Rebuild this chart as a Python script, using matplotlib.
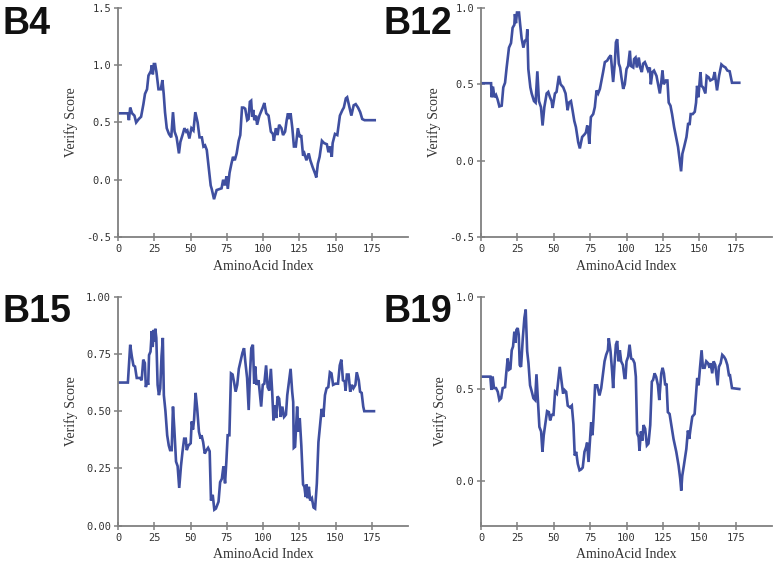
import matplotlib
matplotlib.use("Agg")
import matplotlib.pyplot as plt
from matplotlib.ticker import FormatStrFormatter

plt.rcParams["axes.unicode_minus"] = False

LINE_COLOR = "#3f4fa0"
AXIS_COLOR = "#808080"

x_ticks = [0, 25, 50, 75, 100, 125, 150, 175]

# B4
b4_x = [0, 6.8, 7.5, 8.4, 9.7, 11.3, 12.5, 14.3, 15.9, 17.5, 18.6, 20, 21, 22.7, 23.3, 24, 24.7, 25.6,
        26.5, 27.9, 29.5, 30.6, 31.5, 32.4, 33.6, 35.1, 36.7, 37.9, 39, 40.4, 42, 43, 44.7, 45.8, 47,
        47.8, 49.2, 50.6, 52, 53.3, 54.9, 56.2, 57.8, 58.9, 60, 61.2, 62.8, 63.9, 64.6, 66.2, 68, 71.4,
        72.5, 73.7, 74.8, 75.7, 76.9, 78.2, 79.3, 80.5, 81.8, 83.2, 84.3, 85.5, 86.6, 87.7, 89.1, 90,
        90.9, 91.8, 92.5, 93.2, 94, 95.2, 95.9, 97.5, 99.8, 100.9, 102.2, 103.8, 105.4, 106.8, 107.5,
        108.8, 110, 111.1, 112.7, 113.8, 115.2, 116.3, 117.2, 118.1, 119, 120.2, 121.3, 122.6, 124,
        125.4, 126.3, 127.6, 128.5, 129.9, 131.5, 132.6, 134.2, 136, 136.7, 137.8, 139, 140.6, 142.1,
        144, 145.1, 146.2, 147.4, 148, 149.6, 151.2, 153, 154.8, 155.7, 157.1, 158, 159.1, 160.9,
        162.5, 163.9, 165.5, 167, 168.4, 170, 177]
b4_y = [0.58, 0.58, 0.52, 0.63, 0.58, 0.56, 0.50, 0.53, 0.55, 0.66, 0.75, 0.79, 0.91, 0.95, 1.0, 0.92,
        1.01, 1.01, 0.94, 0.79, 0.79, 0.87, 0.75, 0.59, 0.45, 0.40, 0.37, 0.59, 0.42, 0.37, 0.23, 0.33,
        0.40, 0.45, 0.42, 0.43, 0.36, 0.45, 0.43, 0.59, 0.50, 0.37, 0.37, 0.29, 0.30, 0.26, 0.08, -0.05,
        -0.08, -0.17, -0.09, -0.075, 0.0, -0.05, 0.03, -0.08, 0.06, 0.14, 0.20, 0.17, 0.23, 0.34, 0.39,
        0.63, 0.63, 0.62, 0.52, 0.53, 0.68, 0.69, 0.55, 0.61, 0.52, 0.56, 0.48, 0.56, 0.63, 0.67, 0.58,
        0.56, 0.42, 0.40, 0.34, 0.45, 0.39, 0.48, 0.45, 0.39, 0.42, 0.52, 0.58, 0.53, 0.58, 0.45, 0.29,
        0.29, 0.45, 0.37, 0.39, 0.21, 0.23, 0.17, 0.23, 0.17, 0.11, 0.05, 0.02, 0.14, 0.20, 0.34, 0.32,
        0.31, 0.24, 0.29, 0.20, 0.32, 0.40, 0.39, 0.56, 0.61, 0.63, 0.71, 0.72, 0.66, 0.56, 0.65, 0.66,
        0.63, 0.59, 0.53, 0.52, 0.52]

# B12
b12_x = [0, 6.9, 7.3, 8.2, 9.2, 10.3, 11.4, 12.6, 14.2, 15.3, 16.5, 17.6, 19.2, 20.6, 21.7, 22.9, 23.3,
         24, 24.7, 26.1, 26.8, 27.9, 29.1, 30.2, 31.3, 31.8, 32.5, 33.9, 34.8, 36.4, 37.5, 38.7, 39.8,
         41.2, 42.3, 43.5, 45.1, 46.2, 47.4, 48.5, 49.2, 50.8, 51.9, 53.5, 54.7, 56.5, 58.1, 59.5, 60.4,
         61.8, 62.9, 64.1, 65.2, 66.8, 67.9, 69.5, 71.4, 72.1, 73, 73.7, 74.4, 75.5, 77.1, 78.2, 79.4,
         80.5, 81.7, 82.8, 83.9, 85.1, 86.7, 87.9, 89.2, 90.8, 92, 92.7, 93.6, 94.7, 95.6, 96.5, 97.7,
         98.8, 100, 101.1, 102.3, 103, 104.6, 105.2, 106.2, 107.1, 108.4, 109.4, 110.5, 111.4, 112.6,
         113.7, 114.8, 116, 116.7, 117.8, 118.9, 120.6, 121.7, 122.9, 124, 124.7, 125.6, 127, 128.1, 129,
         130.2, 131.3, 132.7, 134.3, 135.4, 136.8, 137.5, 138.4, 139.6, 141.2, 142.3, 143.4, 144.1,
         145.5, 146.9, 147.8, 148.5, 149.4, 150.8, 151.5, 152.6, 154.2, 155.1, 156.5, 157.6, 159.5,
         160.6, 161.5, 162.2, 163.6, 165.2, 166.3, 168, 169.3, 170.9, 172.5, 177.5]
b12_y = [0.507, 0.507, 0.415, 0.485, 0.415, 0.43, 0.40, 0.355, 0.36, 0.48, 0.51, 0.61, 0.74, 0.77, 0.87,
         0.89, 0.96, 0.90, 0.97, 0.97, 0.90, 0.80, 0.74, 0.785, 0.795, 0.86, 0.60, 0.48, 0.44, 0.39, 0.38,
         0.585, 0.39, 0.35, 0.23, 0.35, 0.44, 0.45, 0.415, 0.39, 0.345, 0.44, 0.45, 0.555, 0.50, 0.48,
         0.44, 0.33, 0.38, 0.39, 0.33, 0.26, 0.22, 0.12, 0.08, 0.155, 0.175, 0.185, 0.23, 0.19, 0.11,
         0.285, 0.305, 0.35, 0.46, 0.44, 0.47, 0.525, 0.58, 0.645, 0.655, 0.675, 0.69, 0.515, 0.645,
         0.775, 0.795, 0.635, 0.61, 0.545, 0.47, 0.50, 0.60, 0.62, 0.72, 0.62, 0.61, 0.665, 0.675, 0.61,
         0.675, 0.61, 0.58, 0.635, 0.645, 0.62, 0.59, 0.61, 0.50, 0.58, 0.59, 0.555, 0.50, 0.44, 0.525,
         0.59, 0.50, 0.525, 0.525, 0.38, 0.36, 0.305, 0.22, 0.145, 0.09, -0.02, -0.07, 0.045, 0.09,
         0.155, 0.24, 0.24, 0.305, 0.305, 0.32, 0.38, 0.49, 0.415, 0.58, 0.49, 0.48, 0.44, 0.555, 0.545,
         0.525, 0.535, 0.58, 0.51, 0.46, 0.555, 0.63, 0.62, 0.61, 0.59, 0.585, 0.51, 0.51]

# B15
b15_x = [0, 6.8, 8.4, 9.5, 10.6, 11.7, 12.9, 15.1, 16.3, 17.4, 18.5, 19.2, 20.1, 20.8, 21.4, 22.4, 23.3,
         23.9, 24.6, 25.3, 25.7, 26.4, 27.3, 28.2, 29.1, 30, 30.9, 31.6, 32.7, 33.9, 35, 35.9, 37, 37.9,
         38.8, 40, 41.1, 42.2, 43.4, 44.5, 45.6, 46.7, 47.4, 48.5, 50.1, 50.8, 51.7, 52.4, 53.5, 54.6,
         55.8, 56.9, 57.6, 58.7, 59.8, 61, 62.1, 63.2, 64.1, 65.3, 66.4, 67.5, 69.3, 70.4, 71.6, 72.7,
         73.8, 74.7, 75.6, 76.8, 77.9, 79, 80.2, 81.1, 82.2, 83.3, 84.7, 85.8, 86.9, 87.8, 89, 90.1, 91,
         91.9, 93, 93.9, 94.6, 95.5, 96.9, 98, 98.7, 99.8, 100.9, 102.1, 103.2, 104.3, 105.4, 106.3,
         107.2, 108.2, 109.1, 110, 111.1, 112.2, 113.3, 114.5, 115.8, 116.7, 117.9, 119, 120.1, 120.8,
         121.2, 122.1, 123.5, 124.4, 125.3, 126.4, 127.6, 128.5, 129.4, 130, 130.7, 131.6, 132.5, 133.7,
         134.8, 135.9, 137.1, 138.2, 139.3, 140.4, 141.6, 142.7, 143.8, 145, 146.1, 147.2, 148.3, 149.9,
         151.7, 152.9, 154, 155.1, 156.3, 156.9, 157.8, 159, 160.1, 161.2, 162.3, 163.7, 164.6, 166,
         166.9, 168, 169.1, 169.8, 176.5]
b15_y = [0.625, 0.625, 0.79, 0.74, 0.70, 0.695, 0.645, 0.645, 0.635, 0.725, 0.71, 0.605, 0.635, 0.615,
         0.745, 0.76, 0.85, 0.78, 0.855, 0.805, 0.86, 0.82, 0.615, 0.57, 0.60, 0.74, 0.82, 0.57, 0.50,
         0.395, 0.35, 0.33, 0.33, 0.52, 0.425, 0.28, 0.26, 0.165, 0.26, 0.325, 0.38, 0.38, 0.33, 0.35,
         0.36, 0.455, 0.42, 0.46, 0.58, 0.51, 0.41, 0.38, 0.395, 0.365, 0.315, 0.33, 0.34, 0.325, 0.11,
         0.135, 0.07, 0.075, 0.105, 0.19, 0.205, 0.26, 0.185, 0.28, 0.395, 0.395, 0.665, 0.66, 0.62,
         0.585, 0.615, 0.685, 0.725, 0.755, 0.775, 0.715, 0.645, 0.505, 0.665, 0.775, 0.79, 0.62, 0.695,
         0.615, 0.635, 0.565, 0.52, 0.615, 0.62, 0.70, 0.605, 0.59, 0.685, 0.585, 0.46, 0.525, 0.47,
         0.565, 0.555, 0.475, 0.52, 0.475, 0.485, 0.57, 0.63, 0.685, 0.585, 0.54, 0.34, 0.345, 0.52, 0.41,
         0.47, 0.35, 0.18, 0.17, 0.125, 0.18, 0.12, 0.17, 0.11, 0.12, 0.08, 0.075, 0.185, 0.365, 0.44,
         0.51, 0.475, 0.57, 0.60, 0.605, 0.67, 0.665, 0.615, 0.62, 0.62, 0.70, 0.725, 0.635, 0.63, 0.59,
         0.66, 0.66, 0.585, 0.615, 0.60, 0.615, 0.67, 0.635, 0.585, 0.58, 0.52, 0.50, 0.50]

# B19
b19_x = [0, 6.4, 7.1, 8, 8.9, 10.3, 11.5, 12.6, 13.8, 14.9, 16.5, 17.2, 18.3, 19.3, 20.2, 21.1, 22, 22.9,
         23.6, 24.3, 25.2, 25.9, 26.6, 27.5, 28.7, 29.8, 30.7, 31.7, 32.6, 33.7, 34.9, 36, 37.2, 38.1,
         39, 40.1, 41.3, 42.2, 43.1, 44.3, 45.4, 46.6, 47.5, 48.6, 49.8, 50.9, 52.1, 53, 54.1, 55, 56.4,
         57.3, 58.5, 59.6, 61.2, 62.4, 63.5, 64.4, 65.4, 66.5, 67.7, 68.8, 69.9, 71.1, 72.2, 72.9, 73.9,
         75, 75.7, 76.6, 77.3, 78.4, 79.8, 81.4, 82.6, 83.7, 84.9, 86, 87.2, 87.8, 89, 90.1, 90.8, 91.7,
         92.7, 93.6, 94.5, 95.4, 96.3, 97.5, 98.6, 99.3, 100, 101.1, 102.1, 103.2, 104.4, 105.5, 106.4,
         107.3, 108.3, 108.9, 109.9, 110.8, 111.7, 112.8, 114, 115.1, 116.3, 117.4, 118.3, 119.3, 120.4,
         121.6, 122.5, 123.9, 124.8, 125.7, 126.6, 127.5, 128.4, 129.6, 130.7, 132.3, 134.2, 135.8,
         136.9, 137.6, 138.3, 139.4, 141.1, 142.2, 143.1, 144, 145.2, 146.8, 147.7, 148.6, 149.5, 150.5,
         151.6, 152.5, 153.7, 154.8, 156, 157.1, 157.8, 158.9, 159.9, 161, 161.9, 162.6, 163.5, 164.7,
         165.8, 167, 168.1, 169.3, 170.4, 171.1, 172.5, 177.5]
b19_y = [0.567, 0.567, 0.495, 0.567, 0.505, 0.505, 0.485, 0.44, 0.45, 0.505, 0.51, 0.575, 0.665, 0.605,
         0.61, 0.71, 0.73, 0.81, 0.75, 0.82, 0.83, 0.795, 0.63, 0.62, 0.775, 0.885, 0.93, 0.705, 0.64,
         0.52, 0.485, 0.45, 0.44, 0.58, 0.45, 0.295, 0.27, 0.16, 0.25, 0.32, 0.38, 0.375, 0.33, 0.36,
         0.36, 0.485, 0.475, 0.54, 0.62, 0.565, 0.475, 0.495, 0.485, 0.41, 0.40, 0.41, 0.31, 0.14, 0.16,
         0.095, 0.06, 0.065, 0.075, 0.16, 0.185, 0.21, 0.105, 0.24, 0.32, 0.25, 0.34, 0.52, 0.52, 0.465,
         0.505, 0.575, 0.65, 0.685, 0.71, 0.775, 0.705, 0.595, 0.505, 0.63, 0.74, 0.76, 0.65, 0.71, 0.65,
         0.63, 0.56, 0.56, 0.65, 0.675, 0.74, 0.665, 0.66, 0.64, 0.567, 0.26, 0.24, 0.165, 0.27, 0.22,
         0.305, 0.285, 0.195, 0.205, 0.305, 0.54, 0.55, 0.585, 0.565, 0.52, 0.44, 0.585, 0.615, 0.585,
         0.52, 0.53, 0.375, 0.365, 0.31, 0.23, 0.16, 0.085, 0.015, -0.05, 0.03, 0.085, 0.175, 0.275,
         0.23, 0.285, 0.35, 0.365, 0.465, 0.56, 0.52, 0.615, 0.71, 0.615, 0.615, 0.65, 0.64, 0.615, 0.64,
         0.585, 0.65, 0.63, 0.567, 0.52, 0.62, 0.64, 0.685, 0.675, 0.66, 0.63, 0.575, 0.575, 0.505, 0.50]


def draw_panel(fig, rect, xs, ys, ylim, yticks, yfmt, tag, tag_pos):
    ax = fig.add_axes(rect)
    ax.plot(xs, ys, color=LINE_COLOR, linewidth=1.9, solid_joinstyle="miter")
    ax.set_xlim(0, 200)
    ax.set_ylim(*ylim)
    ax.set_xticks(x_ticks)
    ax.set_yticks(yticks)
    ax.yaxis.set_major_formatter(FormatStrFormatter(yfmt))

    for side in ("top", "right"):
        ax.spines[side].set_visible(False)
    for side in ("left", "bottom"):
        ax.spines[side].set_color(AXIS_COLOR)
        ax.spines[side].set_linewidth(1.3)

    ax.tick_params(direction="inout", length=6, width=1.1, color=AXIS_COLOR,
                   labelsize=7.5, labelcolor="#333333", pad=2)
    for lab in ax.get_xticklabels() + ax.get_yticklabels():
        lab.set_family("DejaVu Sans Mono")

    ax.set_xlabel("AminoAcid Index", family="Liberation Serif", fontsize=10, color="#333333", labelpad=4)
    ax.set_ylabel("Verify Score", family="Liberation Serif", fontsize=10, color="#333333", labelpad=6)

    fig.text(tag_pos[0], tag_pos[1], tag, family="Liberation Sans", fontweight="bold",
             fontsize=27, color="#111111", ha="left", va="top")
    return ax


fig = plt.figure(figsize=(7.78, 5.67), dpi=100)

draw_panel(fig, [0.1517, 0.582, 0.3728, 0.404], b4_x, b4_y, (-0.5, 1.5),
           [-0.5, 0.0, 0.5, 1.0, 1.5], "%.1f", "B4", (0.003, 0.99))
draw_panel(fig, [0.6183, 0.582, 0.374, 0.404], b12_x, b12_y, (-0.5, 1.0),
           [-0.5, 0.0, 0.5, 1.0], "%.1f", "B12", (0.493, 0.99))
draw_panel(fig, [0.1517, 0.0728, 0.3728, 0.404], b15_x, b15_y, (0.0, 1.0),
           [0.0, 0.25, 0.5, 0.75, 1.0], "%.2f", "B15", (0.003, 0.482))
draw_panel(fig, [0.6183, 0.0728, 0.374, 0.404], b19_x, b19_y, (-0.24, 1.0),
           [0.0, 0.5, 1.0], "%.1f", "B19", (0.493, 0.482))

fig.savefig("out.png", dpi=100)
